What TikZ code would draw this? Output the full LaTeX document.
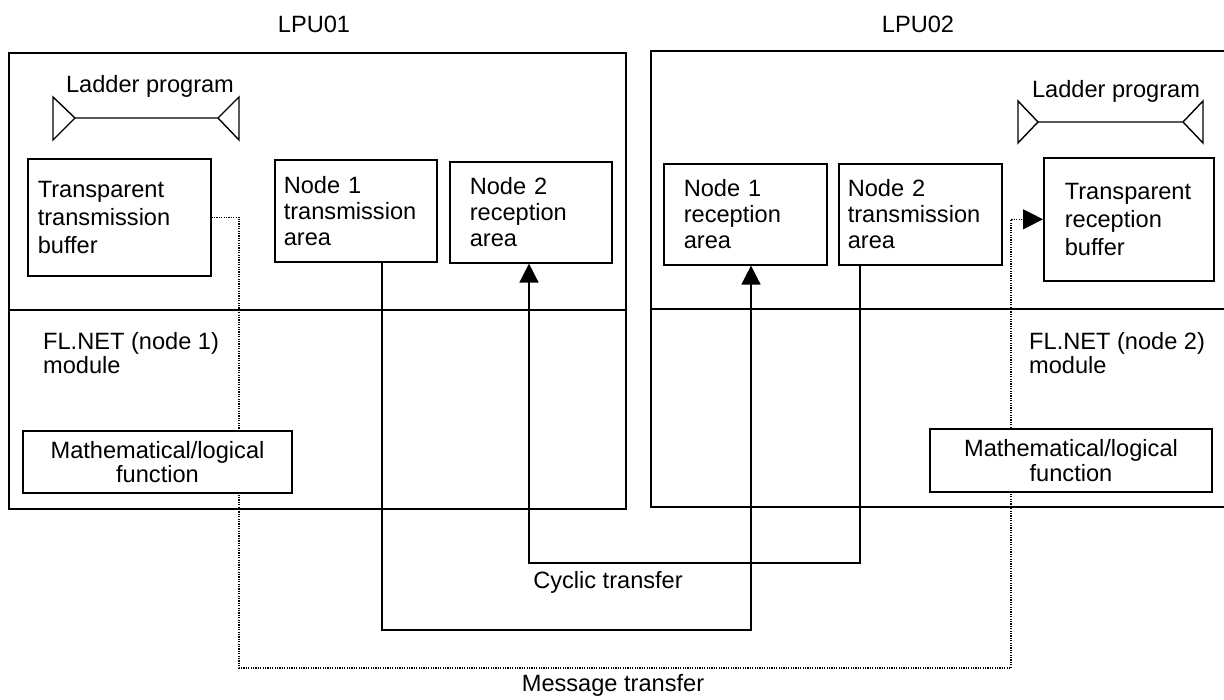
\documentclass[tikz,border=0pt]{standalone}
\usepackage{fontspec}
\setmainfont{Liberation Sans}
\usetikzlibrary{arrows.meta,positioning}

\begin{document}
\begin{tikzpicture}[x=1pt,y=-1pt,
  lbl/.style={inner sep=0pt, font=\fontsize{23.6}{26}\selectfont},
  area/.style={draw, line width=1.6pt, align=left, anchor=north west, inner ysep=0pt, font=\fontsize{23.6}{26}\selectfont},
  buf/.style={area, font=\fontsize{23.6}{28}\selectfont},
  func/.style={draw, fill=white, line width=1.6pt, align=center, inner sep=0pt, font=\fontsize{23.6}{24.5}\selectfont},
  frame/.style={line width=1.8pt},
  ladder/.style={line width=1.4pt, line join=miter},
  cyc/.style={line width=1.6pt, -{Triangle[length=19pt,width=19pt]}},
  msg/.style={line width=1.2pt, dash pattern=on 1.2pt off 1.2pt, -{Triangle[length=20pt,width=20pt]}}
]
  \clip (0,0) rectangle (1224,700);

  \draw[frame] (9,53) rectangle (626,509) (9,310) -- (626,310);
  \draw[frame] (651,51) rectangle (1240,507) (651,309) -- (1240,309);

  \node[lbl] (lpu1) at (314,24) {LPU01};
  \node[lbl] (lpu2) at (918,24) {LPU02};

  \node[lbl, anchor=base] (lad1) at (150,93) {Ladder program};
  \draw[ladder] (53,97) -- (75,118) -- (53,140) -- cycle (75,118) -- (218,118)
    (239,97) -- (218,118) -- (239,140) -- cycle;
  \node[lbl, anchor=base] (lad2) at (1116,98) {Ladder program};
  \draw[ladder] (1018,101) -- (1038,122) -- (1018,143) -- cycle (1038,122) -- (1183,122)
    (1203,101) -- (1183,122) -- (1203,143) -- cycle;

  \node[buf, inner xsep=10pt, text width=163pt, minimum height=117pt] (ttb) at (27,158) {Transparent\\transmission\\buffer};
  \node[area, inner xsep=9pt, text width=144pt, minimum height=102pt] (n1tx) at (274,159) {Node 1\\transmission\\area};
  \node[area, inner xsep=20pt, text width=122pt, minimum height=101pt] (n2rx) at (449,161) {Node 2\\reception\\area};
  \node[area, inner xsep=20pt, text width=123pt, minimum height=101pt] (n1rx) at (663,163) {Node 1\\reception\\area};
  \node[area, inner xsep=9pt, text width=145pt, minimum height=101pt] (n2tx) at (838,163) {Node 2\\transmission\\area};
  \node[buf, inner xsep=21pt, text width=128pt, minimum height=123pt] (trb) at (1043,157) {Transparent\\reception\\buffer};

  \node[lbl, align=left, anchor=north west, font=\fontsize{23.6}{24}\selectfont] (fl1) at (43,332) {FL.NET (node 1)\\module};
  \node[lbl, align=left, anchor=north west, font=\fontsize{23.6}{24}\selectfont] (fl2) at (1029,332) {FL.NET (node 2)\\module};

  \coordinate (c1) at (382,630);
  \coordinate (c2) at (751,630);
  \coordinate (c3) at (860,563);
  \coordinate (c4) at (529,563);
  \draw[cyc] (n1tx.south -| c1) -- (c1) -- (c2) -- (c2 |- n1rx.south);
  \draw[cyc] (n2tx.south -| c3) -- (c3) -- (c4) -- (c4 |- n2rx.south);
  \node[lbl] (cyclbl) at (608,582) {Cyclic transfer};

  \coordinate (m1) at (239,668);
  \coordinate (m2) at (1011,668);
  \draw[msg] (ttb.east) -| (m1) -- (m2) |- (trb.west);
  \node[lbl] (msglbl) at (613,685) {Message transfer};

  \node[func, minimum width=269pt, minimum height=62pt] (mlf1) at (157.5,462) {Mathematical/logical\\function};
  \node[func, minimum width=282pt, minimum height=63pt] (mlf2) at (1071,460.5) {Mathematical/logical\\function};
\end{tikzpicture}
\end{document}
